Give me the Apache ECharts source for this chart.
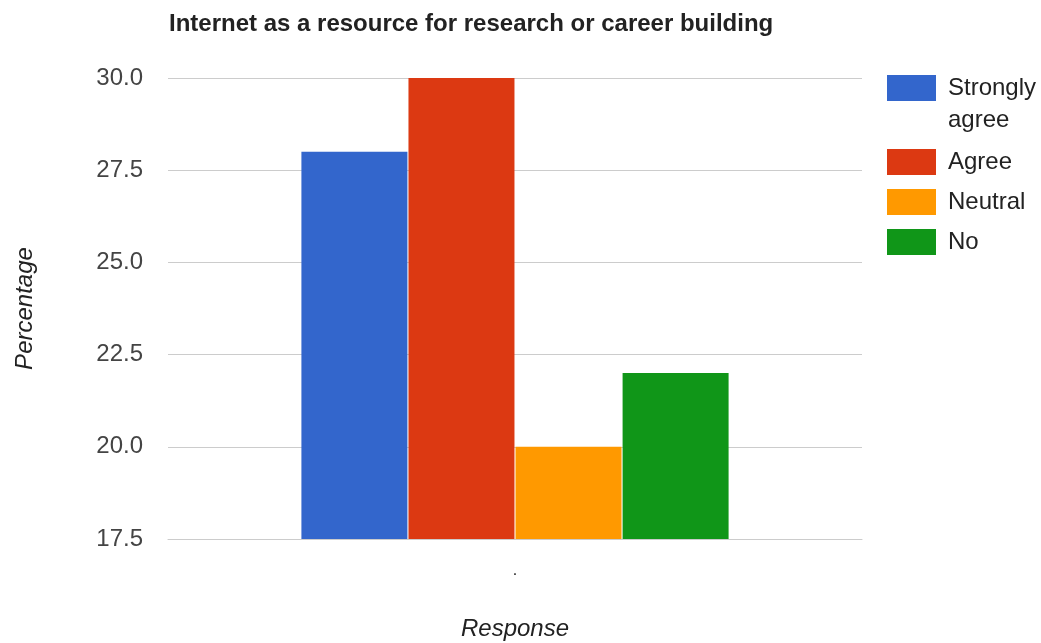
<!DOCTYPE html>
<html>
<head>
<meta charset="utf-8">
<script src="https://cdn.jsdelivr.net/npm/echarts@6/dist/echarts.min.js"></script>
<style>
  html, body { margin: 0; padding: 0; background: #fff; }
  #chart { width: 1041px; height: 643px; }
</style>
</head>
<body>
<div id="chart"></div>
<script>
// Survey: internet as a resource for research or career building
const categories = ['.'];
const stronglyAgree = [28];
const agree = [30];
const neutral = [20];
const no = [22];
const seriesNames = ['Strongly agree', 'Agree', 'Neutral', 'No'];
const seriesColors = ['#3366cc', '#dc3912', '#ff9900', '#109618'];
const yTicks = { min: 17.5, max: 30, step: 2.5 };

const font = 'Arial, "Liberation Sans", sans-serif';
const values = [stronglyAgree, agree, neutral, no];

const chart = echarts.init(document.getElementById('chart'), null, { renderer: 'canvas' });

const legendText = { color: '#222', fontSize: 24, fontFamily: font, padding: [0, 0, 0, 7] };

chart.setOption({
  animation: false,
  color: seriesColors,
  title: {
    text: 'Internet as a resource for research or career building',
    left: 164,
    top: 7,
    textStyle: { fontFamily: font, fontSize: 24, fontWeight: 'bold', color: '#222' }
  },
  legend: [
    {
      // long label wraps; the blank first line keeps "Strongly" level with the swatch
      data: [seriesNames[0]],
      orient: 'vertical',
      left: 882,
      top: 35,
      icon: 'rect',
      itemWidth: 49,
      itemHeight: 26,
      formatter: () => '\nStrongly\nagree',
      textStyle: Object.assign({}, legendText, { lineHeight: 32 })
    },
    {
      data: seriesNames.slice(1),
      orient: 'vertical',
      left: 882,
      top: 144,
      icon: 'rect',
      itemWidth: 49,
      itemHeight: 26,
      itemGap: 14,
      textStyle: Object.assign({}, legendText, { lineHeight: 26 })
    }
  ],
  grid: { left: 168, right: 179, top: 78, bottom: 104, containLabel: false, outerBoundsMode: 'none' },
  xAxis: {
    type: 'category',
    data: categories,
    name: 'Response',
    nameLocation: 'middle',
    nameGap: 78,
    nameTextStyle: { fontFamily: font, fontSize: 24, fontStyle: 'italic', color: '#222' },
    axisLine: { show: true, lineStyle: { color: '#cccccc' } },
    axisTick: { show: false },
    axisLabel: { margin: 24, fontFamily: font, fontSize: 16, color: '#222' }
  },
  yAxis: {
    type: 'value',
    min: yTicks.min,
    max: yTicks.max,
    interval: yTicks.step,
    name: 'Percentage',
    nameLocation: 'middle',
    nameGap: 131,
    nameTextStyle: { fontFamily: font, fontSize: 24, fontStyle: 'italic', color: '#222' },
    axisLine: { show: false },
    axisTick: { show: false },
    axisLabel: {
      margin: 25,
      fontFamily: font,
      fontSize: 24,
      color: '#444',
      formatter: v => v.toFixed(1)
    },
    splitLine: { lineStyle: { color: '#cccccc' } }
  },
  series: seriesNames.map((name, i) => ({
    name: name,
    type: 'bar',
    data: values[i],
    barWidth: 106,
    barGap: '1%',
    itemStyle: { color: seriesColors[i] }
  }))
});
</script>
</body>
</html>
